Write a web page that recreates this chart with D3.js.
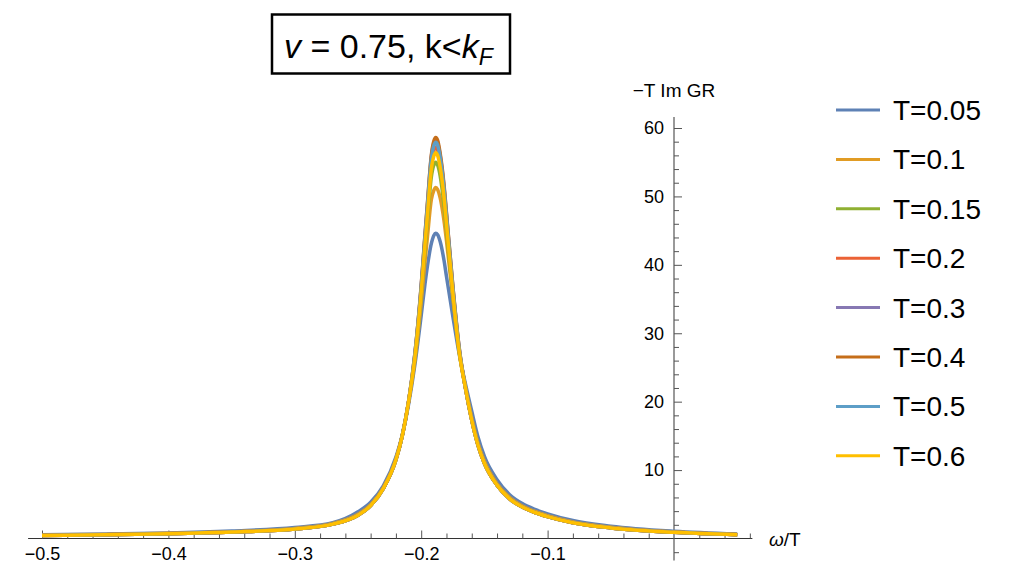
<!DOCTYPE html>
<html>
<head>
<meta charset="utf-8">
<script src="https://cdn.jsdelivr.net/npm/d3@7"></script>
<style>
  body { margin: 0; background: #fff; }
  svg { font-family: "Liberation Sans", Arial, sans-serif; }
  .axis text { fill: #000; }
  .axis line { stroke: #555; }
</style>
</head>
<body>
<svg id="chart" width="1012" height="569"></svg>
<script>
// omega/T sample points
var omega = [-0.5, -0.45, -0.4, -0.35, -0.3, -0.27, -0.25, -0.24, -0.23, -0.22, -0.215, -0.21,
    -0.205, -0.2, -0.197, -0.195, -0.192, -0.19, -0.1885, -0.187, -0.185, -0.182, -0.18, -0.175, -0.17,
    -0.165, -0.16, -0.155, -0.15, -0.14, -0.13, -0.12, -0.11, -0.1, -0.08, -0.05, 0, 0.05];

var labels = ["T=0.05", "T=0.1", "T=0.15", "T=0.2", "T=0.3", "T=0.4", "T=0.5", "T=0.6"];
var colors = ["#5E81B5", "#E19C24", "#8FB032", "#EB6235", "#8778B3", "#C56E1A", "#5D9EC7", "#FFBF00"];

// -T Im GR
var t005 = [0.55, 0.65, 0.8, 1.1, 1.6, 2.3, 3.9, 5.3, 7.7, 11.9, 15.1, 19.6,
    25.4, 32.6, 37.2, 39.9, 43.1, 44.3, 44.6, 44.4, 43.4, 40.7, 38.3, 32.5, 27,
    22.6, 18.6, 14.8, 12, 8.6, 6.4, 5.1, 4.25, 3.6, 2.62, 1.8, 1.05, 0.65];
var t01 = [0.5, 0.6, 0.75, 1.0, 1.48, 2.2, 3.55, 4.95, 7.45, 11.6, 15, 20,
    26, 34.5, 40.5, 44.2, 49.5, 50.9, 51.3, 51, 49.8, 46.5, 43.5, 35.2, 27.4,
    22.2, 17.6, 13.9, 11.3, 8, 6, 4.75, 3.95, 3.35, 2.42, 1.63, 0.95, 0.58];
var t015 = [0.45, 0.55, 0.7, 0.95, 1.4, 2.1, 3.4, 4.8, 7.3, 11.5, 15, 20,
    26.3, 35.5, 42.3, 46.6, 52.8, 54.6, 55, 54.6, 53, 48.8, 45.1, 35.6, 27.3,
    22, 17.3, 13.6, 11, 7.8, 5.8, 4.6, 3.8, 3.2, 2.3, 1.55, 0.9, 0.55];
var t02 = [0.45, 0.55, 0.7, 0.95, 1.4, 2.1, 3.4, 4.8, 7.3, 11.5, 15, 20,
    26.7, 36.4, 43.5, 48.1, 54.8, 56.7, 57.2, 56.8, 55, 50.6, 46.6, 36.4, 27.6,
    22, 17.3, 13.6, 11, 7.8, 5.8, 4.6, 3.8, 3.2, 2.3, 1.55, 0.9, 0.55];
var t03 = [0.45, 0.55, 0.7, 0.95, 1.4, 2.1, 3.4, 4.8, 7.3, 11.5, 15, 20,
    27, 36.9, 44.3, 49, 55.8, 57.8, 58.3, 57.9, 56, 51.5, 47.4, 36.9, 27.9,
    22, 17.3, 13.6, 11, 7.8, 5.8, 4.6, 3.8, 3.2, 2.3, 1.55, 0.9, 0.55];
var t04 = [0.45, 0.55, 0.7, 0.95, 1.4, 2.1, 3.4, 4.8, 7.3, 11.5, 15, 20,
    27, 37, 44.5, 49.2, 56, 58.1, 58.6, 58.2, 56.3, 51.8, 47.6, 37, 28,
    22, 17.3, 13.6, 11, 7.8, 5.8, 4.6, 3.8, 3.2, 2.3, 1.55, 0.9, 0.55];
var t05 = [0.45, 0.55, 0.7, 0.95, 1.4, 2.1, 3.4, 4.8, 7.3, 11.5, 15, 20,
    26.9, 36.7, 44, 48.7, 55.4, 57.4, 57.9, 57.5, 55.7, 51.2, 47.1, 36.7, 27.8,
    22, 17.3, 13.6, 11, 7.8, 5.8, 4.6, 3.8, 3.2, 2.3, 1.55, 0.9, 0.55];
var t06 = [0.45, 0.55, 0.7, 0.95, 1.4, 2.1, 3.4, 4.8, 7.3, 11.5, 15, 20,
    26.5, 36, 43, 47.5, 54, 55.9, 56.4, 56.0, 54.3, 50, 46, 36, 27.4,
    22, 17.3, 13.6, 11, 7.8, 5.8, 4.6, 3.8, 3.2, 2.3, 1.55, 0.9, 0.55];

var series = [t005, t01, t015, t02, t03, t04, t05, t06];

var xMajor = [-0.5, -0.4, -0.3, -0.2, -0.1];
var xMinor = [-0.48, -0.46, -0.44, -0.42, -0.38, -0.36, -0.34, -0.32, -0.28, -0.26, -0.24, -0.22,
    -0.18, -0.16, -0.14, -0.12, -0.08, -0.06, -0.04, -0.02, 0.02, 0.04, 0.06];
var yMajor = [10, 20, 30, 40, 50, 60];
var yMinor = [-2, 2, 4, 6, 8, 12, 14, 16, 18, 22, 24, 26, 28, 32, 34, 36, 38, 42, 44, 46, 48, 52, 54, 56, 58];

var svg = d3.select("#chart");

var x = d3.scaleLinear().domain([-0.5, 0]).range([42, 674]);
var y = d3.scaleLinear().domain([0, 60]).range([538.5, 128]);

// axis lines (drawn by hand so they run past the tick range)
svg.append("line")
    .attr("x1", x(-0.511)).attr("x2", x(0.062))
    .attr("y1", y(0)).attr("y2", y(0))
    .attr("stroke", "#333").attr("stroke-width", 1.2);
svg.append("line")
    .attr("x1", x(0)).attr("x2", x(0))
    .attr("y1", y(61.6)).attr("y2", y(-3.2))
    .attr("stroke", "#555").attr("stroke-width", 1.2);

// x axis
var fmt = d3.format(".1f");
svg.append("g")
    .attr("class", "axis")
    .attr("transform", "translate(0," + y(0) + ")")
    .call(d3.axisBottom(x).tickValues(xMajor).tickSizeInner(-8).tickSizeOuter(0).tickPadding(9).tickFormat(fmt))
    .call(function (g) { g.select(".domain").remove(); })
    .selectAll("text").style("font-size", "18px");
svg.append("g")
    .attr("class", "axis")
    .attr("transform", "translate(0," + y(0) + ")")
    .call(d3.axisBottom(x).tickValues(xMinor).tickSizeInner(-5).tickSizeOuter(0).tickFormat(""))
    .call(function (g) { g.select(".domain").remove(); });

// y axis
svg.append("g")
    .attr("class", "axis")
    .attr("transform", "translate(" + x(0) + ",0)")
    .call(d3.axisLeft(y).tickValues(yMajor).tickSizeInner(-8).tickSizeOuter(0).tickPadding(10).tickFormat(d3.format("d")))
    .call(function (g) { g.select(".domain").remove(); })
    .selectAll("text").style("font-size", "18px");
svg.append("g")
    .attr("class", "axis")
    .attr("transform", "translate(" + x(0) + ",0)")
    .call(d3.axisLeft(y).tickValues(yMinor).tickSizeInner(-5).tickSizeOuter(0).tickFormat(""))
    .call(function (g) { g.select(".domain").remove(); });

// axis labels
svg.append("text")
    .attr("x", x(0)).attr("y", 97)
    .attr("text-anchor", "middle")
    .style("font-size", "19px")
    .text("\u2212T Im GR");
var xl = svg.append("text")
    .attr("x", 769).attr("y", 546)
    .style("font-size", "19px");
xl.append("tspan").style("font-style", "italic").text("\u03c9");
xl.append("tspan").text("/T");

// curves
var line = d3.line()
    .x(function (d, i) { return x(omega[i]); })
    .y(function (d) { return y(d); })
    .curve(d3.curveMonotoneX);

svg.append("g").selectAll("path")
    .data(series)
    .enter().append("path")
    .attr("d", line)
    .attr("fill", "none")
    .attr("stroke", function (d, i) { return colors[i]; })
    .attr("stroke-width", 3.5)
    .attr("stroke-linejoin", "round");

// legend
var leg = svg.append("g").selectAll("g")
    .data(labels)
    .enter().append("g")
    .attr("transform", function (d, i) { return "translate(836," + (110 + i * 49.4) + ")"; });
leg.append("line")
    .attr("x1", 0).attr("x2", 44)
    .attr("stroke", function (d, i) { return colors[i]; })
    .attr("stroke-width", 3);
leg.append("text")
    .attr("x", 57).attr("y", 10)
    .style("font-size", "28px")
    .text(function (d) { return d; });

// title box
svg.append("rect")
    .attr("x", 272).attr("y", 14.5)
    .attr("width", 238).attr("height", 59)
    .attr("fill", "none").attr("stroke", "#000").attr("stroke-width", 2.5);
var title = svg.append("text")
    .attr("x", 284).attr("y", 58)
    .style("font-size", "34px");
title.append("tspan").style("font-style", "italic").text("v");
title.append("tspan").text(" = 0.75, k<");
title.append("tspan").style("font-style", "italic").text("k");
title.append("tspan").style("font-style", "italic").style("font-size", "23px").attr("dy", 7).text("F");
</script>
</body>
</html>
